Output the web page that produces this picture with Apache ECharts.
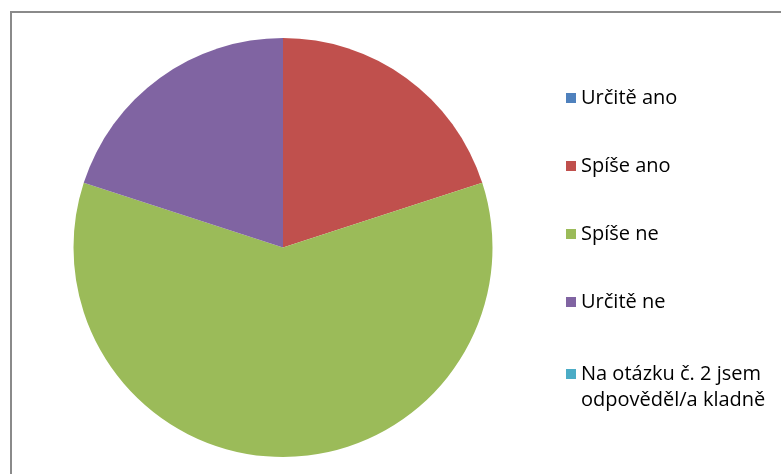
<!DOCTYPE html>
<html>
<head>
<meta charset="utf-8">
<script src="https://cdn.jsdelivr.net/npm/echarts@6/dist/echarts.min.js"></script>
<style>
  html, body { margin: 0; padding: 0; background: #fff; }
  #chart { width: 781px; height: 474px; }
</style>
</head>
<body>
<div id="chart"></div>
<script>
// odpovědi a počty
var categories = ['Určitě ano', 'Spíše ano', 'Spíše ne', 'Určitě ne', 'Na otázku č. 2 jsem odpověděl/a kladně'];
var values = [0, 1, 3, 1, 0];
var colors = ['#4F81BD', '#C0504D', '#9BBB59', '#8064A2', '#4BACC6'];

var pieData = categories.map(function (name, i) {
    return {name: name, value: values[i], itemStyle: {color: colors[i]}};
});

var legendFont = {fontFamily: 'Open Sans', fontSize: 20, color: '#000'};

echarts.init(document.getElementById('chart')).setOption({
    animation: false,
    graphic: [
        {
            type: 'rect',
            shape: {x: 11, y: 12, width: 820, height: 520},
            style: {fill: 'none', stroke: '#8a8a8a', lineWidth: 2},
            silent: true
        }
    ],
    legend: [
        {
            orient: 'vertical',
            left: 566,
            top: 88,
            padding: 0,
            itemWidth: 10,
            itemHeight: 10,
            itemGap: 48,
            icon: 'rect',
            selectedMode: false,
            data: categories.slice(0, 4),
            textStyle: Object.assign({lineHeight: 20}, legendFont)
        },
        {
            // blank first line keeps the square level with the first text line
            orient: 'vertical',
            left: 566,
            top: 335,
            padding: 0,
            itemWidth: 10,
            itemHeight: 10,
            icon: 'rect',
            selectedMode: false,
            data: categories.slice(4),
            formatter: function () {
                return ' \nNa otázku č. 2 jsem\nodpověděl/a kladně';
            },
            textStyle: Object.assign({lineHeight: 26}, legendFont)
        }
    ],
    series: [
        {
            type: 'pie',
            center: [283, 247.5],
            radius: 209.5,
            startAngle: 90,
            clockwise: true,
            label: {show: false},
            labelLine: {show: false},
            emphasis: {disabled: true},
            itemStyle: {borderWidth: 0},
            data: pieData
        }
    ]
});
</script>
</body>
</html>
